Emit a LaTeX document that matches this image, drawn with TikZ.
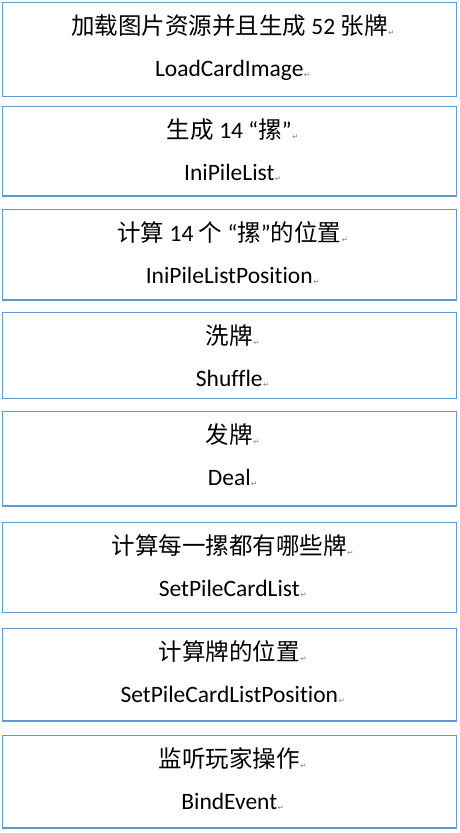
\documentclass[tikz,border=0pt]{standalone}
\usepackage{fontspec}
\setmainfont{Carlito}[Ligatures=NoCommon]
\newfontfamily\cjk{Noto Sans CJK SC}
\newfontfamily\symfont{DejaVu Sans}
\usetikzlibrary{positioning}
\definecolor{boxblue}{HTML}{5B9BD5}
\newcommand{\retmark}{\rlap{\kern0.5pt\raisebox{-1pt}{\symfont\fontsize{7.5pt}{7.5pt}\selectfont\textcolor{gray}{↵}}}}

\begin{document}
\begin{tikzpicture}[x=1pt,y=1pt]
    % Define styles
    \tikzstyle{stepbox}=[rectangle,draw=boxblue,line width=1.1pt,minimum width=454pt,inner sep=0pt]
    \tikzstyle{cnline}=[anchor=base,inner sep=0pt,font=\fontsize{23.5pt}{23.5pt}\selectfont]
    \tikzstyle{enline}=[anchor=base,inner sep=0pt,font=\fontsize{23.5pt}{23.5pt}\selectfont]

    \useasboundingbox (0,0) rectangle (460,-833);

    % Step boxes
    \node[stepbox,minimum height=94pt] (box1) at (229.3,-49.3) {};
    \node[stepbox,minimum height=89.3pt] (box2) at (229.3,-151.35) {};
    \node[stepbox,minimum height=90.7pt] (box3) at (229.3,-254.65) {};
    \node[stepbox,minimum height=85.6pt] (box4) at (229.3,-355.5) {};
    \node[stepbox,minimum height=94.3pt] (box5) at (229.3,-458.85) {};
    \node[stepbox,minimum height=90pt] (box6) at (229.3,-567.7) {};
    \node[stepbox,minimum height=92.7pt] (box7) at (229.3,-674.65) {};
    \node[stepbox,minimum height=92.3pt] (box8) at (229.3,-781.85) {};

    % Step texts
    \foreach \i/\cn/\en in {
        1/{\cjk 加载图片资源并且生成} 52 {\cjk 张牌}/LoadCardImage,
        2/{\cjk 生成} 14 “{\cjk 摞}”/IniPileList,
        3/{\cjk 计算} 14 {\cjk 个} “{\cjk 摞}”{\cjk 的位置}/IniPileListPosition,
        4/{\cjk 洗牌}/Shuffle,
        5/{\cjk 发牌}/Deal,
        6/{\cjk 计算每一摞都有哪些牌}/SetPileCardList,
        7/{\cjk 计算牌的位置}/SetPileCardListPosition,
        8/{\cjk 监听玩家操作}/BindEvent} {
        \node[cnline] (cn\i) at ([yshift=-32.5pt]box\i.north) {\cn\retmark};
        \node[enline] (en\i) at ([yshift=-74.5pt]box\i.north) {\en\retmark};
    }
\end{tikzpicture}
\end{document}
